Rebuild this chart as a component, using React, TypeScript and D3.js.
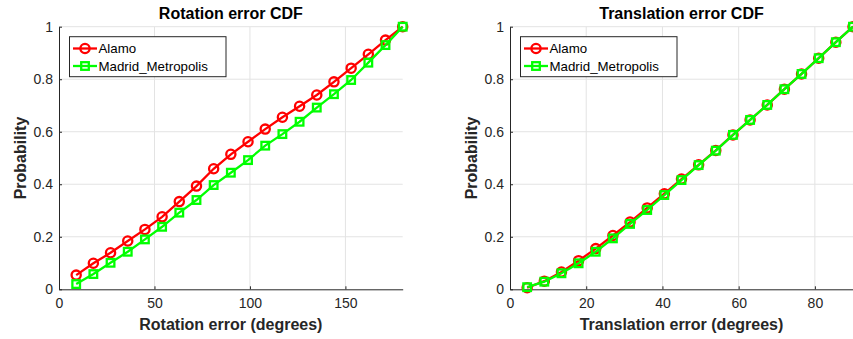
import React, { useEffect, useRef } from 'react';
import * as d3 from 'd3';

// rotation error CDF (x in degrees)
const rotX = [9, 18, 27, 36, 45, 54, 63, 72, 81, 90, 99, 108, 117, 126, 135, 144, 153, 162, 171, 180];
const rotAlamo = [0.054, 0.099, 0.139, 0.184, 0.228, 0.276, 0.334, 0.393, 0.459, 0.514, 0.562, 0.61, 0.655, 0.697, 0.74, 0.79, 0.842, 0.895, 0.949, 1.0];
const rotMadrid = [0.02, 0.058, 0.101, 0.143, 0.19, 0.238, 0.292, 0.34, 0.397, 0.444, 0.492, 0.547, 0.591, 0.638, 0.692, 0.743, 0.797, 0.863, 0.93, 1.0];

// translation error CDF
const transX = [4.5, 9, 13.5, 18, 22.5, 27, 31.5, 36, 40.5, 45, 49.5, 54, 58.5, 63, 67.5, 72, 76.5, 81, 85.5, 90];
const transAlamo = [0.006, 0.031, 0.066, 0.109, 0.155, 0.205, 0.256, 0.31, 0.364, 0.42, 0.474, 0.529, 0.588, 0.645, 0.702, 0.762, 0.82, 0.88, 0.941, 1.0];
const transMadrid = [0.008, 0.029, 0.061, 0.099, 0.143, 0.194, 0.249, 0.302, 0.359, 0.416, 0.473, 0.528, 0.588, 0.645, 0.702, 0.762, 0.82, 0.88, 0.941, 1.0];

const seriesNames = ['Alamo', 'Madrid_Metropolis'];
const yTicks = [0, 0.2, 0.4, 0.6, 0.8, 1];

const panels = [
  { title: 'Rotation error CDF', xLabel: 'Rotation error (degrees)', xs: rotX, a: rotAlamo, m: rotMadrid, xMax: 180, xTicks: [0, 50, 100, 150], left: 59, right: 402.7 },
  { title: 'Translation error CDF', xLabel: 'Translation error (degrees)', xs: transX, a: transAlamo, m: transMadrid, xMax: 90, xTicks: [0, 20, 40, 60, 80], left: 510, right: 853 },
];

const W = 853;
const H = 339;
const TOP = 26.7;
const BOTTOM = 289.3;
const FONT = '"Liberation Sans", Arial, Helvetica, sans-serif';

const App = () => {
  const svgRef = useRef<SVGSVGElement>(null);

  useEffect(() => {
    const svg = d3.select(svgRef.current);
    svg.selectAll('*').remove();

    panels.forEach((p) => {
      const x = d3.scaleLinear().domain([0, p.xMax]).range([p.left, p.right]);
      const y = d3.scaleLinear().domain([0, 1]).range([BOTTOM, TOP]);
      const g = svg.append('g');

      // grid
      g.selectAll('line.gx')
        .data(p.xTicks.filter((t) => t > 0))
        .join('line')
        .attr('x1', (d) => x(d)).attr('x2', (d) => x(d))
        .attr('y1', TOP).attr('y2', BOTTOM)
        .attr('stroke', '#e3e3e3').attr('stroke-width', 1);
      g.selectAll('line.gy')
        .data(yTicks.filter((t) => t > 0))
        .join('line')
        .attr('x1', p.left).attr('x2', p.right)
        .attr('y1', (d) => y(d)).attr('y2', (d) => y(d))
        .attr('stroke', '#e3e3e3').attr('stroke-width', 1);

      // axes
      const xAxis = g.append('g').attr('transform', `translate(0,${BOTTOM})`)
        .call(d3.axisBottom(x).tickValues(p.xTicks).tickSizeInner(-3).tickSizeOuter(0).tickPadding(8));
      const yAxis = g.append('g').attr('transform', `translate(${p.left},0)`)
        .call(d3.axisLeft(y).tickValues(yTicks).tickFormat(d3.format('~g')).tickSizeInner(-3).tickSizeOuter(0).tickPadding(6));
      [xAxis, yAxis].forEach((ax) => {
        ax.select('.domain').attr('stroke', '#262626');
        ax.selectAll('.tick line').attr('stroke', '#262626');
        ax.selectAll('.tick text').attr('fill', '#262626').style('font-family', FONT).style('font-size', '14px');
      });
      xAxis.selectAll('.tick text').attr('dy', '0.8em');

      const cx = (p.left + p.right) / 2;
      g.append('text').attr('x', cx).attr('y', 18.5).attr('text-anchor', 'middle')
        .style('font-family', FONT).style('font-size', '16px').style('font-weight', 'bold').attr('fill', '#000')
        .text(p.title);
      g.append('text').attr('x', cx).attr('y', 330).attr('text-anchor', 'middle')
        .style('font-family', FONT).style('font-size', '16px').style('font-weight', 'bold').attr('fill', '#262626')
        .text(p.xLabel);
      g.append('text')
        .attr('transform', `translate(${p.left - 33},${(TOP + BOTTOM) / 2}) rotate(-90)`)
        .attr('text-anchor', 'middle')
        .style('font-family', FONT).style('font-size', '16px').style('font-weight', 'bold').attr('fill', '#262626')
        .text('Probability');

      const line = d3.line<number>().x((_, i) => x(p.xs[i])).y((d) => y(d));

      // Alamo: red circles
      g.append('path').datum(p.a).attr('d', line).attr('fill', 'none').attr('stroke', '#ff0000').attr('stroke-width', 2.3);
      g.selectAll('circle.a').data(p.a).join('circle')
        .attr('cx', (_, i) => x(p.xs[i])).attr('cy', (d) => y(d)).attr('r', 4.6)
        .attr('fill', 'none').attr('stroke', '#ff0000').attr('stroke-width', 2.3);

      // Madrid: green squares
      g.append('path').datum(p.m).attr('d', line).attr('fill', 'none').attr('stroke', '#00ff00').attr('stroke-width', 2.3);
      g.selectAll('rect.m').data(p.m).join('rect')
        .attr('x', (_, i) => x(p.xs[i]) - 3.8).attr('y', (d) => y(d) - 3.8)
        .attr('width', 7.6).attr('height', 7.6)
        .attr('fill', 'none').attr('stroke', '#00ff00').attr('stroke-width', 2.3);

      // legend
      const lx = p.left + 10.5;
      const lg = g.append('g');
      lg.append('rect').attr('x', lx).attr('y', 36.7).attr('width', 156.5).attr('height', 40)
        .attr('fill', '#fff').attr('stroke', '#262626').attr('stroke-width', 1);
      seriesNames.forEach((name, i) => {
        const yy = 48.5 + i * 17.5;
        const col = i === 0 ? '#ff0000' : '#00ff00';
        lg.append('line').attr('x1', lx + 3.5).attr('x2', lx + 27.5).attr('y1', yy).attr('y2', yy)
          .attr('stroke', col).attr('stroke-width', 2.3);
        if (i === 0) {
          lg.append('circle').attr('cx', lx + 15.5).attr('cy', yy).attr('r', 4.6)
            .attr('fill', 'none').attr('stroke', col).attr('stroke-width', 2.3);
        } else {
          lg.append('rect').attr('x', lx + 15.5 - 3.8).attr('y', yy - 3.8).attr('width', 7.6).attr('height', 7.6)
            .attr('fill', 'none').attr('stroke', col).attr('stroke-width', 2.3);
        }
        lg.append('text').attr('x', lx + 29).attr('y', yy).attr('dy', '0.35em')
          .style('font-family', FONT).style('font-size', '13.3px').attr('fill', '#000')
          .text(name);
      });
    });
  }, []);

  return (
    <svg ref={svgRef} width={W} height={H} style={{ position: 'absolute', left: 0, top: 0, background: '#fff' }} />
  );
};

export default App;
